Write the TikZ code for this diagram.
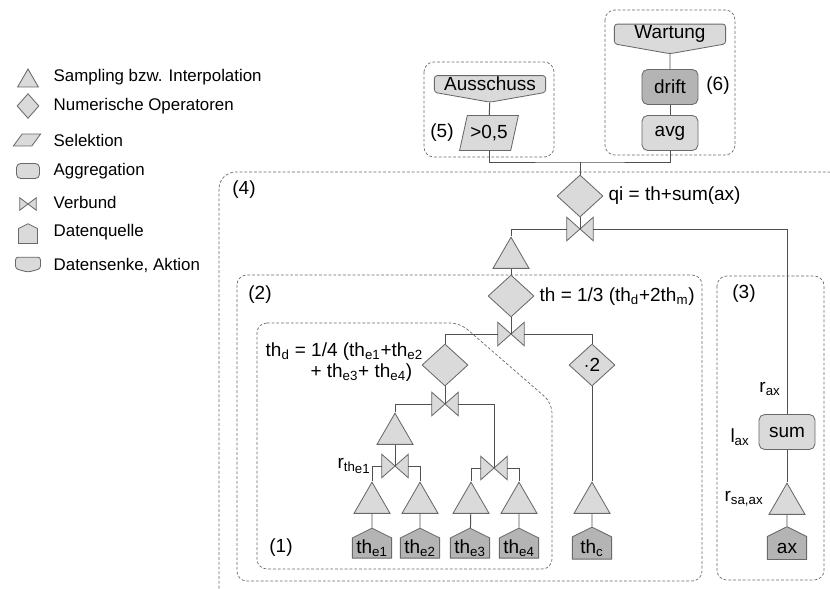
\documentclass[tikz,border=0pt]{standalone}
\usepackage{fontspec}
\setmainfont{Liberation Sans}
\usetikzlibrary{shapes.geometric,shapes.symbols,positioning}

\definecolor{lightfill}{RGB}{218,218,218}
\definecolor{darkfill}{RGB}{180,180,180}
\definecolor{linegray}{RGB}{80,80,80}
\definecolor{bordergray}{RGB}{105,105,105}

\tikzset{
  every node/.style={font=\fontsize{13.5}{16}\selectfont, inner sep=1pt},
  shapebox/.style={draw=bordergray, fill=lightfill, line width=0.6pt},
  sampling/.style={shapebox, regular polygon, regular polygon sides=3,
    minimum size=1.04cm, inner sep=0pt},
  operator/.style={shapebox, diamond, minimum width=1.15cm,
    minimum height=1.05cm, inner sep=0pt},
  selection/.style={shapebox, trapezium, trapezium left angle=68,
    trapezium right angle=112, trapezium stretches=true,
    minimum width=1.475cm, minimum height=0.875cm, inner sep=0.5pt},
  aggregate/.style={shapebox, rectangle, rounded corners=4pt,
    minimum width=1.4cm, minimum height=0.875cm},
  verbund/.style={minimum width=0.65cm, minimum height=0.575cm, inner sep=0pt},
  source/.style={shapebox, fill=darkfill, signal, signal to=north,
    signal from=nowhere, signal pointer angle=127, minimum width=0.98cm,
    minimum height=0.7cm, inner sep=0pt},
  sink/.style={shapebox, signal, signal to=south, signal from=nowhere,
    signal pointer angle=160, rounded corners=2pt, minimum width=2.78cm,
    minimum height=0.56cm},
  group/.style={draw=bordergray, dash pattern=on 2pt off 1.4pt,
    line width=0.5pt, rounded corners=7pt},
  conn/.style={draw=linegray, line width=0.7pt},
  legend/.style={anchor=west, font=\fontsize{12}{14.4}\selectfont},
}

% join symbol: two triangles meeting in the node centre
\newcommand{\verbund}[3][]{%
  \node[verbund,#1] (#2) at (#3) {};
  \filldraw[shapebox] (#2.north west) -- (#2.center) -- (#2.south west) -- cycle
    (#2.north east) -- (#2.center) -- (#2.south east) -- cycle;}

\begin{document}
\begin{tikzpicture}[x=0.025cm, y=-0.025cm]
\useasboundingbox (0,0) rectangle (830,589);
\clip (0,0) rectangle (830,589);

% legend
\node[sampling, minimum size=0.6cm] (lgSampling) at (28,81) {};
\node[legend] (lgSamplingText) at (52,77) {Sampling bzw. Interpolation};
\node[operator, minimum width=0.55cm, minimum height=0.62cm] (lgOperator) at (28,106) {};
\node[legend] (lgOperatorText) at (52,106) {Numerische Operatoren};
\node[selection, trapezium left angle=48, trapezium right angle=132,
  minimum width=0.68cm, minimum height=0.3cm, inner sep=1pt] (lgSelection) at (27,140) {};
\node[legend] (lgSelectionText) at (52,140) {Selektion};
\node[aggregate, rounded corners=3pt, minimum width=0.575cm, minimum height=0.375cm] (lgAggregate) at (28,171) {};
\node[legend] (lgAggregateText) at (52,171) {Aggregation};
\verbund[minimum width=0.4cm, minimum height=0.3cm]{lgVerbund}{28,204}
\node[legend] (lgVerbundText) at (52,202) {Verbund};
\node[source, fill=lightfill, minimum width=0.475cm, minimum height=0.375cm] (lgSource) at (28,236) {};
\node[legend] (lgSourceText) at (52,232) {Datenquelle};
\node[sink, signal pointer angle=150, minimum width=0.625cm, minimum height=0.3cm] (lgSink) at (28,263) {};
\node[legend] (lgSinkText) at (52,265) {Datensenke, Aktion};

% groups
\draw[group] (424,62) rectangle (554,157);
\draw[group] (605,10) rectangle (735,155);
\draw[group, rounded corners=12pt] (219,172) rectangle (845,605);
\draw[group] (237,275) rectangle (702,581);
\draw[group] (717,276) rectangle (824,580);
\draw[group] (257,323) -- (460,323) -- (552,403) -- (552,569) -- (257,569) -- cycle;
\node (n1) at (281,548) {(1)};
\node (n2) at (260,295) {(2)};
\node (n3) at (744,294) {(3)};
\node (n4) at (244,190) {(4)};
\node (n5) at (442,133) {(5)};
\node (n6) at (718,86) {(6)};

% actions
\node[sink] (ausschuss) at (490,84) {Ausschuss};
\node[selection] (sel) at (489,133) {>0,5};
\node[sink] (wartung) at (670,34) {Wartung};
\node[aggregate, fill=darkfill] (drift) at (670,87) {drift};
\node[aggregate] (avg) at (670,133) {avg};
\coordinate (top) at (580,162);

% quality index
\node[operator] (qi) at (580,196) {};
\node[anchor=west] (qiLabel) at (607,196) {qi = th+sum(ax)};
\verbund{joinQ}{580,229}
\node[sampling] (sQ) at (511,258) {};

% temperature
\node[operator] (th) at (511,296) {};
\node[anchor=west] (thLabel) at (538,297) {th = 1/3 (th\textsubscript{d}+2th\textsubscript{m})};
\verbund{joinT}{511,334}
\node[operator] (thd) at (445,365) {};
\node[anchor=west, align=left, font=\fontsize{13.5}{15}\selectfont] (thdLabel) at (264,362)
  {th\textsubscript{d} = 1/4 (th\textsubscript{e1}+th\textsubscript{e2}\\
   \hspace*{1.12cm}+ th\textsubscript{e3}+ th\textsubscript{e4})};
\node[operator] (twice) at (592,365) {$\cdot$2};
\verbund{joinD}{445,404}
\node[sampling] (sD) at (395,434) {};
\verbund{joinL}{395,466}
\verbund{joinR}{494,468}
\node (rth) at (354,466) {r\textsubscript{th\raisebox{-0.4ex}{e1}}};

\node[sampling] (sE1) at (372,503) {};
\node[sampling] (sE2) at (420,503) {};
\node[sampling] (sE3) at (471,503) {};
\node[sampling] (sE4) at (519,503) {};
\node[sampling] (sC) at (592,503) {};
\node[source] (e1) at (372,548) {th\textsubscript{e1}};
\node[source] (e2) at (420,548) {th\textsubscript{e2}};
\node[source] (e3) at (470,548) {th\textsubscript{e3}};
\node[source] (e4) at (519,548) {th\textsubscript{e4}};
\node[source] (c) at (592,548) {th\textsubscript{c}};

% axis values
\node[aggregate] (sum) at (787,432) {sum};
\node (rax) at (770,389) {r\textsubscript{ax}};
\node (lax) at (740,437) {l\textsubscript{ax}};
\node[sampling] (sX) at (787,504) {};
\node (rsa) at (744,499) {r\textsubscript{sa,ax}};
\node[source] (ax) at (787,548) {ax};

% connectors
\draw[conn] (ausschuss) -- (sel);
\draw[conn] (wartung) -- (drift);
\draw[conn] (drift) -- (avg);
\draw[conn] (sel) |- (top) -| (avg);
\draw[conn] (top) -- (qi);
\draw[conn] (qi) -- (joinQ.center);
\draw[conn] (joinQ.west) -| (sQ);
\draw[conn] (joinQ.east) -| (sum);
\draw[conn] (sQ) -- (th);
\draw[conn] (th) -- (joinT.center);
\draw[conn] (joinT.west) -| (thd);
\draw[conn] (joinT.east) -| (twice);
\draw[conn] (thd) -- (joinD.center);
\draw[conn] (joinD.west) -| (sD);
\draw[conn] (joinD.east) -| (joinR.center);
\draw[conn] (sD) -- (joinL.center);
\draw[conn] (joinL.west) -| (sE1);
\draw[conn] (joinL.east) -| (sE2);
\draw[conn] (joinR.west) -| (sE3);
\draw[conn] (joinR.east) -| (sE4);
\draw[conn] (sE1) -- (e1);
\draw[conn] (sE2) -- (e2);
\draw[conn] (sE3) -- (e3);
\draw[conn] (sE4) -- (e4);
\draw[conn] (twice) -- (sC);
\draw[conn] (sC) -- (c);
\draw[conn] (sum) -- (sX);
\draw[conn] (sX) -- (ax);
\end{tikzpicture}
\end{document}
